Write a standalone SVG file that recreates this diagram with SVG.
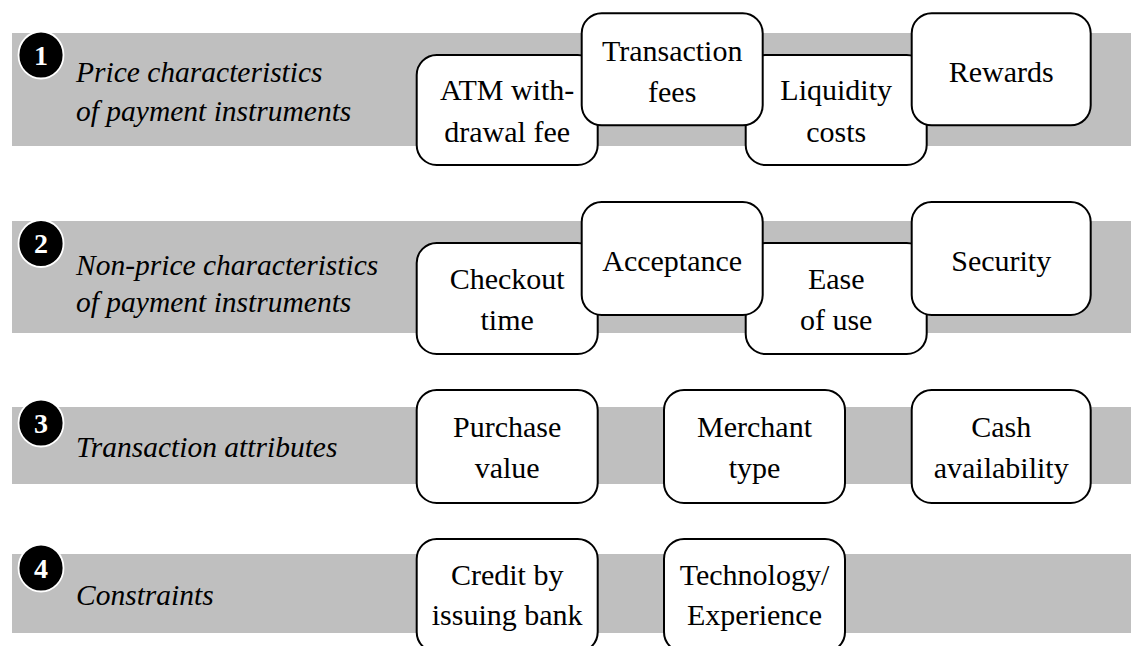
<svg xmlns="http://www.w3.org/2000/svg" width="1131" height="646" viewBox="0 0 1131 646">
  <style>
    .band { fill: #bfbfbf; }
    .box { fill: #ffffff; stroke: #000000; stroke-width: 2; }
    .lbl { font-family: "Liberation Serif", "Times New Roman", serif; font-size: 30px; fill: #000000; text-anchor: middle; }
    .cat { font-family: "Liberation Serif", "Times New Roman", serif; font-size: 29.5px; font-style: italic; fill: #000000; }
    .badge { fill: #000000; stroke: #ffffff; stroke-width: 1.8; }
    .num { font-family: "Liberation Serif", "Times New Roman", serif; font-size: 28px; font-weight: bold; fill: #ffffff; text-anchor: middle; }
  </style>

  <!-- grey category bands -->
  <g id="bands">
    <rect class="band" x="12" y="33" width="1119" height="113"/>
    <rect class="band" x="12" y="221" width="1119" height="112"/>
    <rect class="band" x="12" y="407" width="1119" height="77"/>
    <rect class="band" x="12" y="554" width="1119" height="79"/>
  </g>

  <!-- category headers: numbered badge + italic title -->
  <g id="cat1">
    <ellipse class="badge" cx="41" cy="55" rx="22.5" ry="23.5"/>
    <text class="num" x="41" y="64.5">1</text>
    <text class="cat" x="76" y="82">Price characteristics</text>
    <text class="cat" x="76" y="121">of payment instruments</text>
  </g>
  <g id="cat2">
    <ellipse class="badge" cx="41" cy="243.5" rx="22.5" ry="23.5"/>
    <text class="num" x="41" y="253">2</text>
    <text class="cat" x="76" y="275">Non-price characteristics</text>
    <text class="cat" x="76" y="312">of payment instruments</text>
  </g>
  <g id="cat3">
    <ellipse class="badge" cx="41" cy="423" rx="22.5" ry="23.5"/>
    <text class="num" x="41" y="432.5">3</text>
    <text class="cat" x="76" y="457">Transaction attributes</text>
  </g>
  <g id="cat4">
    <ellipse class="badge" cx="41" cy="568" rx="22.5" ry="23.5"/>
    <text class="num" x="41" y="577.5">4</text>
    <text class="cat" x="76" y="605">Constraints</text>
  </g>

  <!-- row 1: lower boxes first, raised boxes drawn over them -->
  <g id="atm-fee">
    <rect class="box" x="416.7" y="55" width="181" height="110" rx="20"/>
    <text class="lbl" x="507.2" y="100">ATM with-</text>
    <text class="lbl" x="507.2" y="141.5">drawal fee</text>
  </g>
  <g id="liquidity-costs">
    <rect class="box" x="745.7" y="55" width="181" height="110" rx="20"/>
    <text class="lbl" x="836.2" y="100">Liquidity</text>
    <text class="lbl" x="836.2" y="141.5">costs</text>
  </g>
  <g id="transaction-fees">
    <rect class="box" x="581.7" y="13.3" width="181" height="112" rx="20"/>
    <text class="lbl" x="672.2" y="61">Transaction</text>
    <text class="lbl" x="672.2" y="101.5">fees</text>
  </g>
  <g id="rewards">
    <rect class="box" x="911.7" y="13.3" width="179" height="112" rx="20"/>
    <text class="lbl" x="1001.2" y="81.5">Rewards</text>
  </g>

  <!-- row 2 -->
  <g id="checkout-time">
    <rect class="box" x="416.7" y="243" width="181" height="111" rx="20"/>
    <text class="lbl" x="507.2" y="288.5">Checkout</text>
    <text class="lbl" x="507.2" y="330">time</text>
  </g>
  <g id="ease-of-use">
    <rect class="box" x="745.7" y="243" width="181" height="111" rx="20"/>
    <text class="lbl" x="836.2" y="288.5">Ease</text>
    <text class="lbl" x="836.2" y="330">of use</text>
  </g>
  <g id="acceptance">
    <rect class="box" x="581.7" y="202" width="181" height="113" rx="20"/>
    <text class="lbl" x="672.2" y="271">Acceptance</text>
  </g>
  <g id="security">
    <rect class="box" x="911.7" y="202" width="179" height="113" rx="20"/>
    <text class="lbl" x="1001.2" y="271">Security</text>
  </g>

  <!-- row 3 -->
  <g id="purchase-value">
    <rect class="box" x="416.7" y="390" width="181" height="113" rx="20"/>
    <text class="lbl" x="507.2" y="436.5">Purchase</text>
    <text class="lbl" x="507.2" y="477.5">value</text>
  </g>
  <g id="merchant-type">
    <rect class="box" x="664" y="390" width="181" height="113" rx="20"/>
    <text class="lbl" x="754.5" y="436.5">Merchant</text>
    <text class="lbl" x="754.5" y="477.5">type</text>
  </g>
  <g id="cash-availability">
    <rect class="box" x="911.7" y="390" width="179" height="113" rx="20"/>
    <text class="lbl" x="1001.2" y="436.5">Cash</text>
    <text class="lbl" x="1001.2" y="477.5">availability</text>
  </g>

  <!-- row 4 (boxes run past the bottom edge) -->
  <g id="credit-by-bank">
    <rect class="box" x="416.7" y="539" width="181" height="113" rx="20"/>
    <text class="lbl" x="507.2" y="585">Credit by</text>
    <text class="lbl" x="507.2" y="625">issuing bank</text>
  </g>
  <g id="technology-experience">
    <rect class="box" x="664" y="539" width="181" height="113" rx="20"/>
    <text class="lbl" x="754.5" y="585">Technology/</text>
    <text class="lbl" x="754.5" y="625">Experience</text>
  </g>

  <!-- no connectors in this figure -->
  <g id="connectors"/>
</svg>
